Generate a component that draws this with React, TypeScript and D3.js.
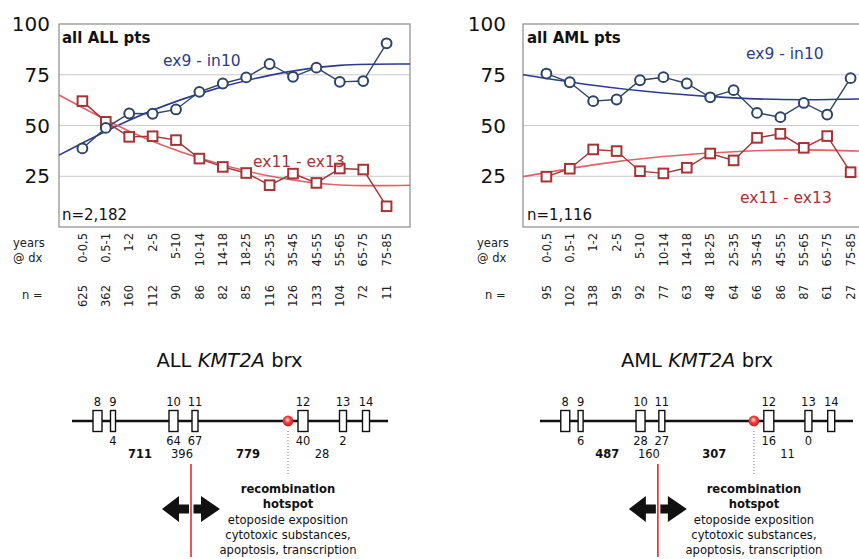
import React from 'react';
import * as d3 from 'd3';

// age groups at diagnosis
const ageGroups = ["0-0,5", "0,5-1", "1-2", "2-5", "5-10", "10-14", "14-18", "18-25", "25-35", "35-45", "45-55", "55-65", "65-75", "75-85"];
const allN = [625, 362, 160, 112, 90, 86, 82, 85, 116, 126, 133, 104, 72, 11];
const amlN = [95, 102, 138, 95, 92, 77, 63, 48, 64, 66, 86, 87, 61, 27];

// % of breakpoints per region
const allEx9 = [38.7, 48.8, 55.9, 55.8, 57.9, 66.6, 70.7, 73.7, 80.3, 74, 78.5, 71.5, 71.9, 90.5];
const allEx11 = [62, 51.8, 44.4, 44.7, 42.8, 33.7, 29.6, 26.6, 20.6, 26.3, 21.7, 28.8, 28.3, 10.2];
const amlEx9 = [75.6, 71.3, 62, 62.8, 72.3, 73.8, 70.7, 63.9, 67.4, 56.2, 54.1, 61.1, 55.4, 73.3];
const amlEx11 = [24.8, 28.7, 38.2, 37.4, 27.5, 26.4, 29.2, 36.2, 32.8, 43.9, 45.9, 39, 44.8, 27];

// trend lines
const trendX = [0, 3, 6, 9, 12, 15];
const allEx9Trend = [35.4, 52.6, 65.7, 74.7, 79.6, 80.3];
const allEx11Trend = [65, 47.2, 34, 25.1, 20.7, 20.6];
const amlEx9Trend = [75, 69.8, 66, 63.6, 62.7, 63.2];
const amlEx11Trend = [24.8, 30.6, 34.7, 37.1, 38, 37.2];

const yTicks = [25, 50, 75, 100];

// KMT2A breakpoint cluster region (schematic)
const exons = ["8", "9", "10", "11", "12", "13", "14"];
const exonPos = [25.5, 41, 101.5, 123, 231, 271, 294];
const exonW = [9, 5, 9, 6, 10, 7, 7];
const hotspotPos = 216;
const allExonCounts = [null, 4, 64, 67, 40, 2, null];
const amlExonCounts = [null, 6, 28, 27, 16, 0, null];
const intronPos = [68, 110, 176, 250];
const intronBold = [true, false, true, false];
const allIntronCounts = [711, 396, 779, 28];
const amlIntronCounts = [487, 160, 307, 11];
const hotspotText = ["recombination", "hotspot", "etoposide exposition", "cytotoxic substances,", "apoptosis, transcription"];

const font = "DejaVu Sans";
const blue = "#2b3b8e";
const darkBlue = "#2c4466";
const red = "#a43436";
const lightRed = "#e2606a";

const Chart = ({ x0, labelX, title, nText, ex9, ex11, ex9Trend, ex11Trend, ns, ex9Label, ex11Label, yLabelEnd, yearsX, nX }) => {
  const xScale = d3.scaleLinear().domain([0, 15]).range([x0, x0 + 351]);
  const yScale = d3.scaleLinear().domain([0, 100]).range([227, 24]);
  const line = d3.line<number>().x((d, i) => xScale(i + 1)).y(d => yScale(d));
  const trend = d3.line<number>().x((d, i) => xScale(trendX[i])).y(d => yScale(d)).curve(d3.curveNatural);

  return (
    <g fontFamily={font}>
      {yTicks.slice(0, 3).map(t => (
        <line key={t} x1={x0} x2={x0 + 351} y1={yScale(t)} y2={yScale(t)} stroke="#c9c9c9" strokeWidth={1} />
      ))}
      <rect x={x0} y={yScale(100)} width={351} height={yScale(0) - yScale(100)} fill="none" stroke="#8a8a8a" strokeWidth={1.2} />
      {yTicks.map(t => (
        <text key={t} x={yLabelEnd} y={yScale(t)} dy="0.36em" textAnchor="end" fontSize={20} fill="#111">{t}</text>
      ))}

      <path d={trend(ex9Trend) || ''} fill="none" stroke={blue} strokeWidth={1.6} />
      <path d={trend(ex11Trend) || ''} fill="none" stroke={lightRed} strokeWidth={1.6} />
      <path d={line(ex9) || ''} fill="none" stroke={darkBlue} strokeWidth={1.4} />
      <path d={line(ex11) || ''} fill="none" stroke={red} strokeWidth={1.4} />

      {ex11.map((d, i) => (
        <rect key={i} x={xScale(i + 1) - 4.8} y={yScale(d) - 4.8} width={9.6} height={9.6} fill="#fff" stroke={red} strokeWidth={2} />
      ))}
      {ex9.map((d, i) => (
        <circle key={i} cx={xScale(i + 1)} cy={yScale(d)} r={4.9} fill="#fff" stroke={darkBlue} strokeWidth={2} />
      ))}

      <text x={labelX} y={43} fontSize={15} fontWeight="bold" fill="#111">{title}</text>
      <text x={labelX} y={220} fontSize={15} fill="#111">{nText}</text>
      <text x={ex9Label[0]} y={ex9Label[1]} fontSize={15.5} fill={blue}>ex9 - in10</text>
      <text x={ex11Label[0]} y={ex11Label[1]} fontSize={15.5} fill={red}>ex11 - ex13</text>

      <text x={yearsX} y={247} fontSize={11.5} fill="#222">years</text>
      <text x={yearsX} y={262} fontSize={11.5} fill="#222">@ dx</text>
      <text x={nX} y={299} fontSize={11.5} fill="#222">n =</text>
      {ageGroups.map((g, i) => (
        <text key={g} transform={`translate(${xScale(i + 1)},233) rotate(-90)`} dy="0.36em" textAnchor="end" fontSize={11.5} fill="#222">{g}</text>
      ))}
      {ns.map((n, i) => (
        <text key={i} transform={`translate(${xScale(i + 1)},285) rotate(-90)`} dy="0.36em" textAnchor="end" fontSize={11.5} fill="#222">{n}</text>
      ))}
    </g>
  );
};

const Gene = ({ x0, x1, cx, name, exonCounts, intronCounts }) => {
  const s = d3.scaleLinear().domain([0, 316]).range([x0, x0 + 316 * (x1 - x0) / 316]);
  const lineY = 421;
  const hx = s(hotspotPos);
  const rx = s(119);
  const ay = 509;
  const leftArrow = `M${rx - 29},${ay} L${rx - 12},${ay - 13} L${rx - 12},${ay - 4.5} L${rx - 2},${ay - 4.5} L${rx - 2},${ay + 4.5} L${rx - 12},${ay + 4.5} L${rx - 12},${ay + 13} Z`;
  const rightArrow = `M${rx + 29},${ay} L${rx + 10},${ay - 13} L${rx + 10},${ay - 4.5} L${rx + 2.5},${ay - 4.5} L${rx + 2.5},${ay + 4.5} L${rx + 10},${ay + 4.5} L${rx + 10},${ay + 13} Z`;
  const gradId = `hot-${name}`;

  return (
    <g fontFamily={font} fill="#111">
      <defs>
        <radialGradient id={gradId} cx="45%" cy="40%" r="60%">
          <stop offset="0%" stopColor="#ffe4e4" />
          <stop offset="45%" stopColor="#f04040" />
          <stop offset="100%" stopColor="#d01818" />
        </radialGradient>
      </defs>
      <text x={cx} y={367} textAnchor="middle" fontSize={19.5}>
        {name} <tspan fontStyle="italic">KMT2A</tspan> brx
      </text>

      <line x1={x0} x2={x1} y1={lineY} y2={lineY} stroke="#111" strokeWidth={2.6} />
      {exons.map((e, i) => (
        <g key={e}>
          <rect x={s(exonPos[i]) - exonW[i] / 2} y={lineY - 10.5} width={exonW[i]} height={21} fill="#fff" stroke="#111" strokeWidth={1.4} />
          <text x={s(exonPos[i])} y={406} textAnchor="middle" fontSize={11.5}>{e}</text>
          {exonCounts[i] !== null && (
            <text x={s(exonPos[i])} y={445} textAnchor="middle" fontSize={11.5}>{exonCounts[i]}</text>
          )}
        </g>
      ))}
      {intronCounts.map((c, i) => (
        <text key={i} x={s(intronPos[i])} y={458} textAnchor="middle" fontSize={11.5} fontWeight={intronBold[i] ? 'bold' : 'normal'}>{c}</text>
      ))}

      <line x1={hx} x2={hx} y1={lineY + 10} y2={474} stroke="#777" strokeWidth={1} strokeDasharray="1,2" />
      <circle cx={hx} cy={lineY} r={5.4} fill={`url(#${gradId})`} />

      <line x1={rx} x2={rx} y1={464} y2={557} stroke="#e41c1c" strokeWidth={1.5} />
      <path d={leftArrow} fill="#111" />
      <path d={rightArrow} fill="#111" />

      {hotspotText.map((t, i) => (
        <text key={i} x={hx} y={493 + i * 15.3} textAnchor="middle" fontSize={11.6} fontWeight={i < 2 ? 'bold' : 'normal'}>{t}</text>
      ))}
    </g>
  );
};

export default function App() {
  return (
    <svg width={859} height={559} style={{ position: 'absolute', left: 0, top: 0, background: '#fff' }}>
      <Chart x0={59} labelX={62} title="all ALL pts" nText="n=2,182" ex9={allEx9} ex11={allEx11}
        ex9Trend={allEx9Trend} ex11Trend={allEx11Trend} ns={allN}
        ex9Label={[163, 66]} ex11Label={[253, 167]} yLabelEnd={50} yearsX={13} nX={22} />
      <Chart x0={523} labelX={527} title="all AML pts" nText="n=1,116" ex9={amlEx9} ex11={amlEx11}
        ex9Trend={amlEx9Trend} ex11Trend={amlEx11Trend} ns={amlN}
        ex9Label={[746, 59]} ex11Label={[740, 203]} yLabelEnd={506} yearsX={477} nX={485} />
      <Gene x0={72} x1={388} cx={229.5} name="ALL" exonCounts={allExonCounts} intronCounts={allIntronCounts} />
      <Gene x0={540} x1={853} cx={697} name="AML" exonCounts={amlExonCounts} intronCounts={amlIntronCounts} />
    </svg>
  );
}
